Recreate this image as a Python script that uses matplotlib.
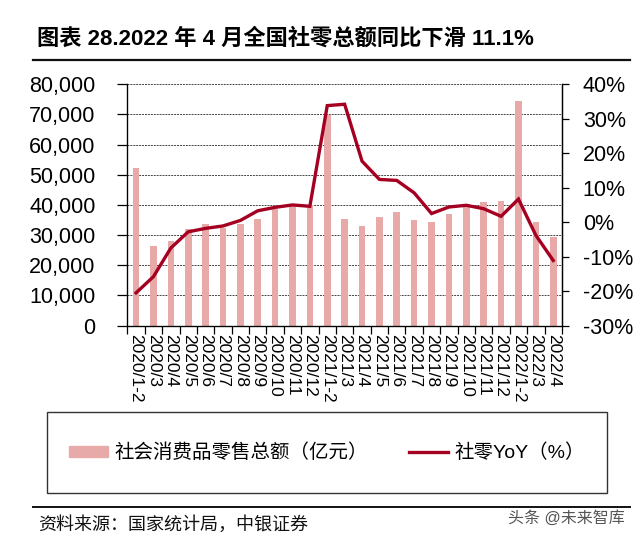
import numpy as np
import matplotlib
matplotlib.use("Agg")
import matplotlib.pyplot as plt
from matplotlib.patches import Rectangle
from matplotlib.lines import Line2D
from matplotlib.ticker import FuncFormatter

plt.rcParams['font.family'] = ['Liberation Sans', 'Noto Sans CJK SC', 'DejaVu Sans']

months = ["2020/1-2", "2020/3", "2020/4", "2020/5", "2020/6", "2020/7", "2020/8",
          "2020/9", "2020/10", "2020/11", "2020/12", "2021/1-2", "2021/3", "2021/4",
          "2021/5", "2021/6", "2021/7", "2021/8", "2021/9", "2021/10", "2021/11",
          "2021/12", "2022/1-2", "2022/3", "2022/4"]
# 社会消费品零售总额（亿元）
retailSales = [52130, 26450, 28178, 31973, 33526, 32203, 33571, 35295, 38576, 39514,
               40000, 69737, 35484, 33153, 35945, 37586, 34925, 34395, 36833, 39800,
               41043, 41269, 74426, 34233, 29483]
# 社零YoY（%）
retailYoY = [-20.5, -15.8, -7.5, -2.8, -1.8, -1.1, 0.5, 3.3, 4.3, 5.0, 4.6, 33.8, 34.2,
             17.7, 12.4, 12.1, 8.5, 2.5, 4.4, 4.9, 3.9, 1.7, 6.7, -3.8, -11.1]

barColor = '#E8A9A9'
lineColor = '#A50021'

fig = plt.figure(figsize=(6.4, 5.4), dpi=100)
ax = fig.add_axes([0.199, 0.397, 0.679, 0.447])
x = np.arange(len(months))

ax.bar(x, retailSales, width=0.38, color=barColor, zorder=2)
ax.set_ylim(0, 80000)
ax.set_yticks(np.arange(0, 80001, 10000))
ax.yaxis.set_major_formatter(FuncFormatter(lambda v, p: "{:,}".format(int(v))))
ax.set_xlim(-0.5, len(months) - 0.5)
ax.set_xticks(x)
ax.set_xticklabels(months, rotation=270, fontsize=12.5, va='top', ha='center')
ax.set_xticks(np.arange(-0.5, len(months), 1), minor=True)
ax.tick_params(axis='x', which='major', length=0, pad=6)
ax.tick_params(axis='x', which='minor', length=6, width=0.9, direction='out')
ax.tick_params(axis='y', length=7, width=0.9, direction='out', pad=16, labelsize=15.5)
ax.yaxis.grid(True, linestyle=(0, (2, 1)), color='#444444', linewidth=0.7, zorder=0)
ax.set_axisbelow(True)
ax.spines['top'].set_visible(False)
for s in ['left', 'bottom', 'right']:
    ax.spines[s].set_linewidth(0.9)

ax2 = ax.twinx()
ax2.plot(x, retailYoY, color=lineColor, linewidth=2.4, solid_joinstyle='miter')
ax2.set_ylim(-30, 40)
ax2.set_yticks(np.arange(-30, 41, 10))
ax2.yaxis.set_major_formatter(FuncFormatter(lambda v, p: "%d%%" % v))
ax2.tick_params(axis='y', length=5, width=0.9, direction='out', pad=10, labelsize=15.5)
ax2.spines['top'].set_visible(False)
ax2.spines['right'].set_linewidth(0.9)

# title and separator lines
fig.text(0.058, 1 - 39 / 540, "图表 28.2022 年 4 月全国社零总额同比下滑 11.1%",
         fontsize=16, fontweight='bold', va='center', ha='left')
fig.add_artist(Line2D([33 / 640, 630 / 640], [1 - 60 / 540] * 2, color='#111111', linewidth=1.6))
fig.add_artist(Line2D([33 / 640, 630 / 640], [1 - 507 / 540] * 2, color='#111111', linewidth=1.4))

# legend box
fig.add_artist(Rectangle((47 / 640, 1 - 493 / 540), (607 - 47) / 640, (493 - 412) / 540,
                         transform=fig.transFigure, fill=False, edgecolor='#333333', linewidth=1.0))
handles = [Rectangle((0, 0), 1, 1, color=barColor),
           Line2D([0], [0], color=lineColor, linewidth=2.4)]
fig.legend(handles, ["社会消费品零售总额（亿元）", "社零YoY（%）"], loc='center',
           bbox_to_anchor=(0.511, 1 - 453 / 540), ncol=2, frameon=False,
           fontsize=14, handlelength=2.0, handleheight=0.5, handletextpad=0.35, columnspacing=2.1)

fig.text(38 / 640, 1 - 525 / 540, "资料来源：国家统计局，中银证券", fontsize=13,
         style='italic', va='center', ha='left', color='#111111')
fig.text(625 / 640, 1 - 518 / 540, "头条 @未来智库", fontsize=11.5, color='#555555',
         va='center', ha='right')

fig.savefig("out.png", dpi=100)
